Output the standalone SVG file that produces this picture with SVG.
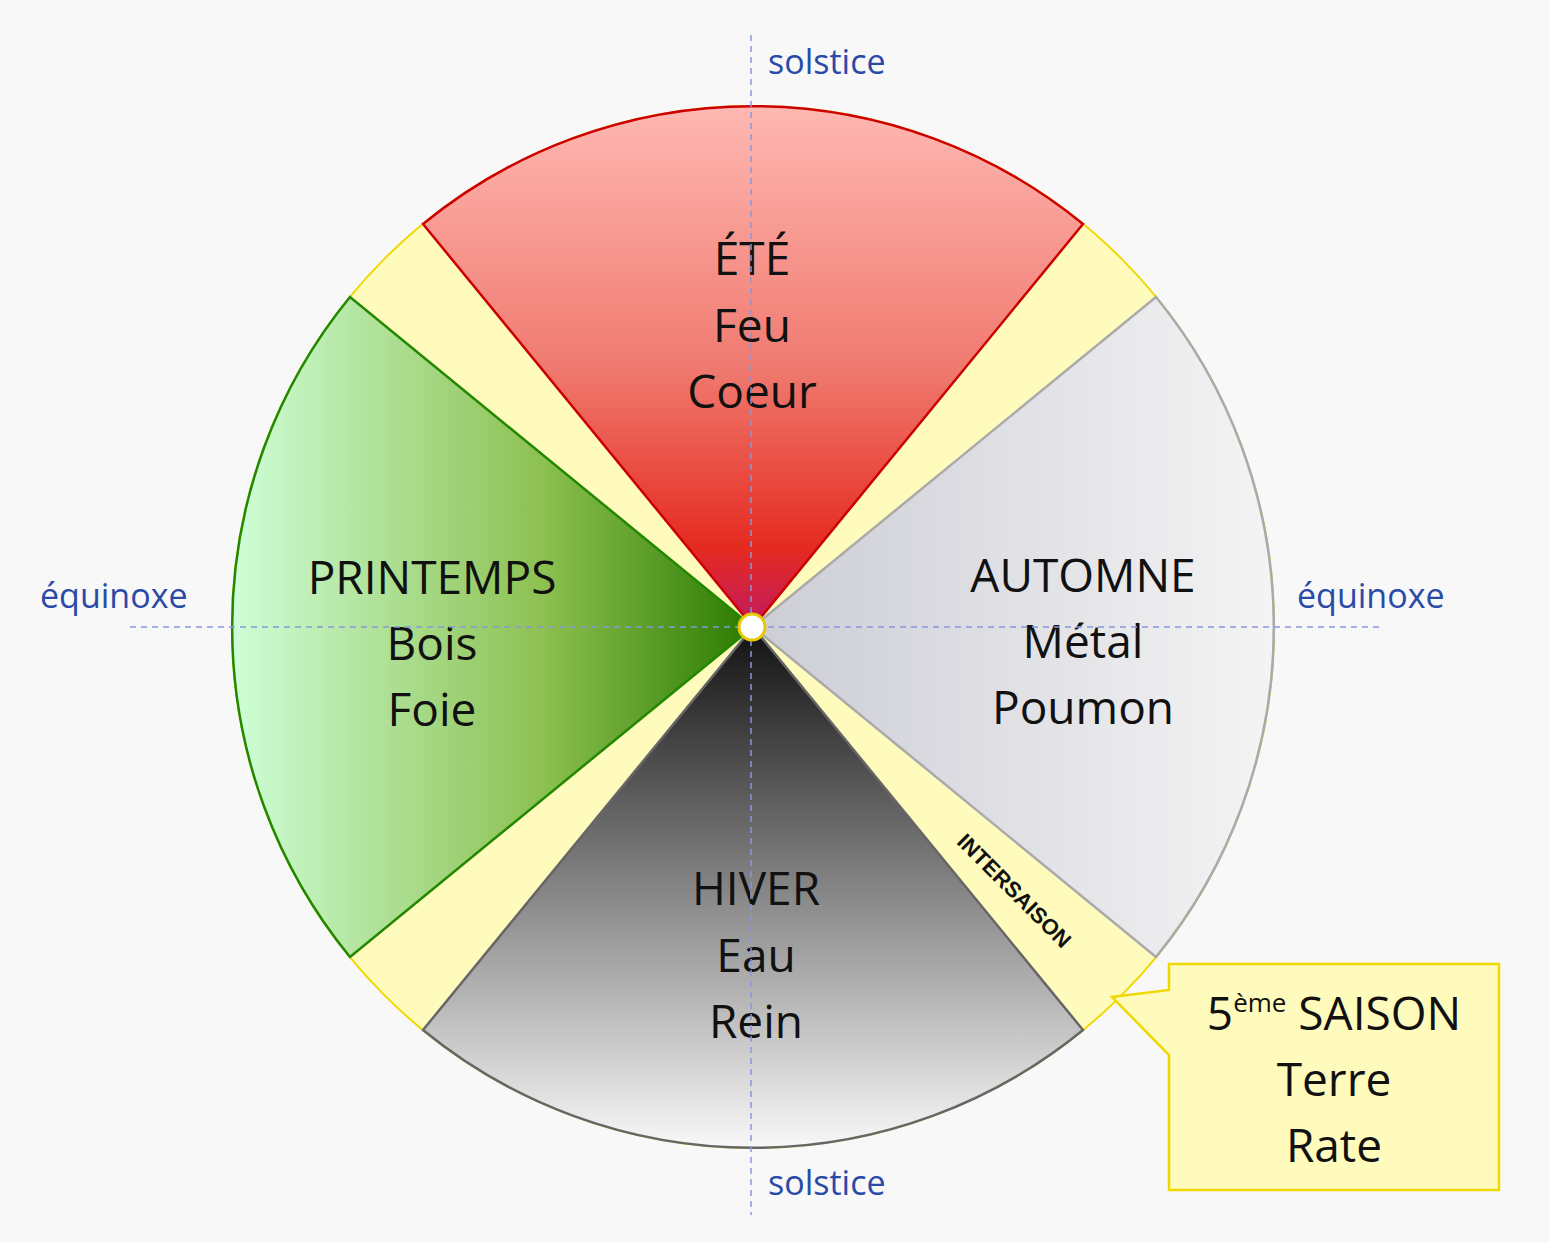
<svg xmlns="http://www.w3.org/2000/svg" width="1549" height="1242" viewBox="0 0 1549 1242">
<style>
.big{font-family:"Open Sans","Liberation Sans",sans-serif;font-size:46px;fill:#111;text-anchor:middle}
.lbl{font-family:"Open Sans","Liberation Sans",sans-serif;font-size:34px;fill:#2a4aa8}
.axis{stroke:#8898dd;stroke-width:1.5;stroke-dasharray:6 5;fill:none}
</style>
<defs>
<linearGradient id="gSum" x1="0" y1="0" x2="0" y2="1"><stop offset="0" stop-color="#ffb8b2"/><stop offset="0.5" stop-color="#f07a70"/><stop offset="0.85" stop-color="#e52a20"/><stop offset="1" stop-color="#c01a60"/></linearGradient>
<linearGradient id="gSpr" x1="0" y1="0" x2="1" y2="0"><stop offset="0" stop-color="#cfffd8"/><stop offset="0.6" stop-color="#8cc050"/><stop offset="1" stop-color="#2a7a00"/></linearGradient>
<linearGradient id="gAut" x1="0" y1="0" x2="1" y2="0"><stop offset="0" stop-color="#cccdd6"/><stop offset="1" stop-color="#f4f4f4"/></linearGradient>
<linearGradient id="gWin" x1="0" y1="0" x2="0" y2="1"><stop offset="0" stop-color="#111"/><stop offset="1" stop-color="#f8f8f8"/></linearGradient>
</defs>
<rect width="1549" height="1242" fill="#f8f8f8"/>
<g id="intersaison-bg"><circle cx="753" cy="627" r="521" fill="#fffbbc" stroke="#f0d800" stroke-width="2"/></g>
<g id="ete"><path d="M753 627 L423 224 A521 521 0 0 1 1083 224 Z" fill="url(#gSum)" stroke="#cc0000" stroke-width="2.5"/>
<text class="big" x="752" y="275">ÉTÉ</text><text class="big" x="752" y="342">Feu</text><text class="big" x="752" y="408">Coeur</text></g>
<g id="printemps"><path d="M753 627 L350 957 A521 521 0 0 1 350 297 Z" fill="url(#gSpr)" stroke="#228800" stroke-width="2.5"/>
<text class="big" x="432" y="594">PRINTEMPS</text><text class="big" x="432" y="660">Bois</text><text class="big" x="432" y="726">Foie</text></g>
<g id="automne"><path d="M753 627 L1156 297 A521 521 0 0 1 1156 957 Z" fill="url(#gAut)" stroke="#aaaaaa" stroke-width="2.5"/>
<text class="big" x="1083" y="592">AUTOMNE</text><text class="big" x="1083" y="658">Métal</text><text class="big" x="1083" y="724">Poumon</text></g>
<g id="hiver"><path d="M753 627 L1083 1030 A521 521 0 0 1 423 1030 Z" fill="url(#gWin)" stroke="#666" stroke-width="2.5"/>
<text class="big" x="756" y="905">HIVER</text><text class="big" x="756" y="972">Eau</text><text class="big" x="756" y="1038">Rein</text></g>
<g id="intersaison-label"><text x="1013" y="892" transform="rotate(45 1013 892)" text-anchor="middle" dominant-baseline="middle" font-family="'Liberation Sans',Arial,sans-serif" font-weight="bold" font-size="22" fill="#111">INTERSAISON</text></g>
<g id="connectors">
<line class="axis" x1="751" y1="35" x2="751" y2="1215"/>
<line class="axis" x1="130" y1="627" x2="1380" y2="627"/>
</g>
<g id="centre"><circle cx="752" cy="627" r="13" fill="#fff" stroke="#e8c800" stroke-width="3"/></g>
<g id="labels">
<text class="lbl" x="768" y="74">solstice</text>
<text class="lbl" x="768" y="1195">solstice</text>
<text class="lbl" x="40" y="608">équinoxe</text>
<text class="lbl" x="1297" y="608">équinoxe</text>
</g>
<g id="cinquieme-saison">
<path d="M1169 964 H1499 V1190 H1169 V1055 L1112 997 L1169 990 Z" fill="#fffbbc" stroke="#f0d800" stroke-width="2.5"/>
<text class="big" x="1334" y="1030">5<tspan font-size="26" dy="-18">ème</tspan><tspan dy="18"> SAISON</tspan></text>
<text class="big" x="1334" y="1096">Terre</text><text class="big" x="1334" y="1162">Rate</text>
</g>
</svg>
